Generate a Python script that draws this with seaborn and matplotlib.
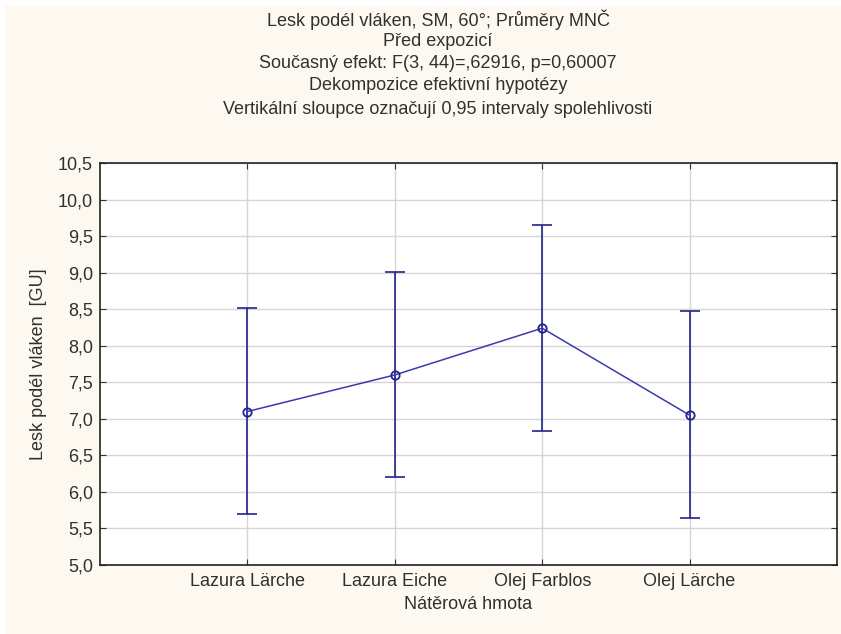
import matplotlib
matplotlib.use("Agg")
import matplotlib.pyplot as plt
from matplotlib.patches import Rectangle
import seaborn as sns
import pandas as pd
import numpy as np

# Least-squares means with 95% confidence limits per coating
categories = ["Lazura Lärche", "Lazura Eiche", "Olej Farblos", "Olej Lärche"]
means = [7.10, 7.60, 8.24, 7.05]
ci_low = [5.70, 6.20, 6.83, 5.64]
ci_high = [8.51, 9.01, 9.65, 8.47]

y_ticks = [5.0, 5.5, 6.0, 6.5, 7.0, 7.5, 8.0, 8.5, 9.0, 9.5, 10.0, 10.5]

title_lines = [
    "Lesk podél vláken, SM, 60°; Průměry MNČ",
    "Před expozicí",
    "Současný efekt: F(3, 44)=,62916, p=0,60007",
    "Dekompozice efektivní hypotézy",
    "Vertikální sloupce označují 0,95 intervaly spolehlivosti",
]
x_label = "Nátěrová hmota"
y_label = "Lesk podél vláken  [GU]"

df = pd.DataFrame({"hmota": categories, "prumer": means})

sns.set_style("white")
plt.rcParams["font.family"] = ["Liberation Sans", "DejaVu Sans"]

bg = "#FDF9F0"
navy = "#23238C"
line_col = "#3A3AB0"
txt_col = "#303030"
fs = 13

fig = plt.figure(figsize=(8.41, 6.34), dpi=100, facecolor="white")
W, H = 841, 634

# cream panel behind the chart, leaving a thin white margin top and left
fig.patches.append(Rectangle((5 / W, -0.01), 1.1, 1.01 - 6 / H, transform=fig.transFigure,
                             facecolor=bg, edgecolor="none", zorder=-10))

ax = fig.add_axes([100 / W, 1 - 565 / H, (837 - 100) / W, (565 - 163) / H])
ax.set_facecolor("white")

# connecting line and mean markers
sns.pointplot(data=df, x="hmota", y="prumer", order=categories, errorbar=None,
              color=line_col, markers="o", linestyles="-", ax=ax,
              markersize=6, markerfacecolor="none", markeredgecolor=navy,
              markeredgewidth=1.3, linewidth=1.1, zorder=3)

# confidence interval bars
xpos = np.arange(len(categories))
m = np.array(means)
yerr = np.vstack([m - np.array(ci_low), np.array(ci_high) - m])
ax.errorbar(xpos, m, yerr=yerr, fmt="none", ecolor=navy, elinewidth=1.2,
            capsize=7, capthick=1.2, zorder=2)

ax.set_xlim(-1.0, 4.0)
ax.set_ylim(5.0, 10.5)
ax.set_yticks(y_ticks)
ax.set_yticklabels([f"{v:.1f}".replace(".", ",") for v in y_ticks])
ax.set_xticks(xpos)
ax.set_xticklabels(categories)

ax.grid(True, axis="both", color="#D6D6D6", linewidth=1.0, zorder=0)
ax.set_axisbelow(True)
for s in ax.spines.values():
    s.set_visible(True)
    s.set_color("#222222")
    s.set_linewidth(1.2)

ax.tick_params(axis="both", which="both", direction="in", length=4,
               top=True, right=True, bottom=True, left=True,
               labelsize=fs, colors="#333333", labelcolor=txt_col)
ax.tick_params(axis="y", pad=5)
ax.tick_params(axis="x", pad=6)

ax.set_xlabel(x_label, fontsize=fs, color=txt_col, labelpad=4)
ax.set_ylabel(y_label, fontsize=fs, color=txt_col, labelpad=8)

title_y = [20, 42, 64, 86, 109]
for txt, yy in zip(title_lines, title_y):
    fig.text(438 / W, 1 - yy / H, txt, ha="center", va="center",
             fontsize=13, color=txt_col)

fig.savefig("out.png", dpi=100, facecolor="white")
